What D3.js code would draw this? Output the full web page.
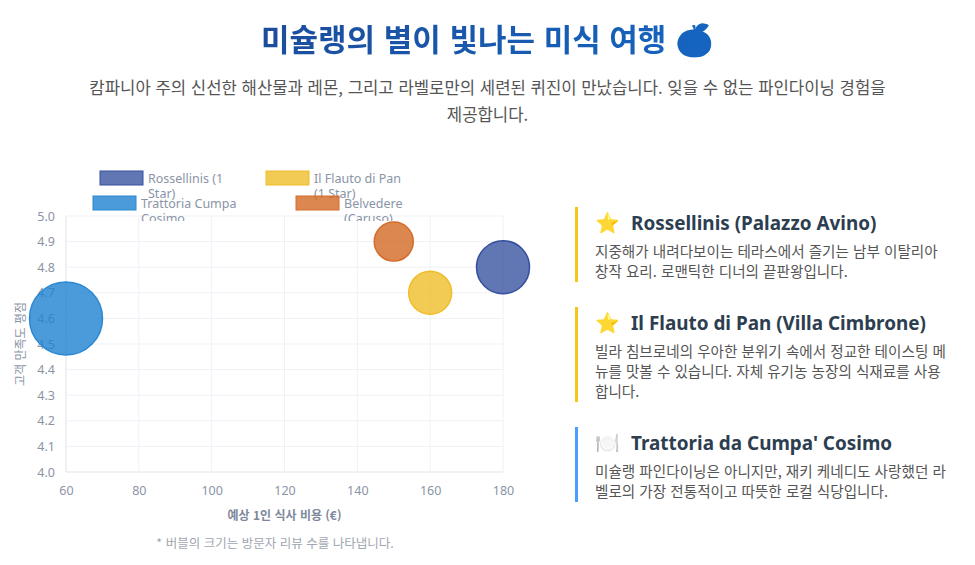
<!DOCTYPE html>
<html lang="ko">
<head>
<meta charset="utf-8">
<script src="https://cdn.jsdelivr.net/npm/d3@7/dist/d3.min.js"></script>
<style>
  html, body { margin:0; padding:0; background:#fff; width:975px; height:565px; overflow:hidden; }
  body { font-family: "Noto Sans CJK KR", "Noto Sans", sans-serif; position:relative; }
  #title { position:absolute; left:0; top:12px; width:975px; text-align:center; font-size:31px; font-weight:700; line-height:52px; }
  #title span { background: linear-gradient(90deg, #1c4d9c, #1565c0); -webkit-background-clip:text; background-clip:text; color:transparent; }
  #subtitle { position:absolute; left:0; top:74px; width:975px; text-align:center; font-size:16.7px; color:#555; line-height:27px; }
  #chart { position:absolute; left:0; top:0; }
  #panel { position:absolute; left:575px; top:207px; width:390px; }
  .item { border-left:3px solid #f5c518; padding:3px 0 1px 17px; }
  .item h3 { margin:0 0 5px 0; font-size:18.9px; font-weight:700; color:#2c3e50; line-height:26px; font-family:"Noto Sans", "Noto Sans CJK KR", sans-serif; white-space:nowrap; }
  .item h3 .ico { font-size:20px; margin-right:11px; }
  .item p { margin:0; font-size:14.6px; color:#555; line-height:20px; white-space:nowrap; }
</style>
</head>
<body>
<div id="title"><span>미슐랭의 별이 빛나는 미식 여행 🍊</span></div>
<div id="subtitle">캄파니아 주의 신선한 해산물과 레몬, 그리고 라벨로만의 세련된 퀴진이 만났습니다. 잊을 수 없는 파인다이닝 경험을<br>제공합니다.</div>
<svg id="chart" width="975" height="565"></svg>
<div id="panel"></div>
<script>
// ---- data ----
const restaurants = ["Rossellinis (1 Star)", "Il Flauto di Pan (1 Star)", "Trattoria Cumpa Cosimo", "Belvedere (Caruso)"];
const legendLines = [["Rossellinis (1", "Star)"], ["Il Flauto di Pan", "(1 Star)"], ["Trattoria Cumpa", "Cosimo"], ["Belvedere", "(Caruso)"]];
const prices = [180, 160, 60, 150];
const ratings = [4.8, 4.7, 4.6, 4.9];
const bubbleSizes = [26.5, 21.5, 36.5, 19.5];
const fillColors = ["rgba(44,74,154,0.75)", "rgba(238,190,40,0.8)", "rgba(30,130,210,0.8)", "rgba(210,105,35,0.8)"];
const borderColors = ["#34509f", "#f0bd2a", "#2b88d2", "#d46d2a"];
const xTicks = [60, 80, 100, 120, 140, 160, 180];
const yTicks = [4.0, 4.1, 4.2, 4.3, 4.4, 4.5, 4.6, 4.7, 4.8, 4.9, 5.0];
const xTitle = "예상 1인 식사 비용 (€)";
const yTitle = "고객 만족도 평점";
const footnote = "* 버블의 크기는 방문자 리뷰 수를 나타냅니다.";

const cardTitles = ["Rossellinis (Palazzo Avino)", "Il Flauto di Pan (Villa Cimbrone)", "Trattoria da Cumpa' Cosimo"];
const cardIcons = ["⭐", "⭐", "🍽️"];
const cardColors = ["#f5c518", "#f5c518", "#4a9eff"];
const cardTexts = [
  ["지중해가 내려다보이는 테라스에서 즐기는 남부 이탈리아", "창작 요리. 로맨틱한 디너의 끝판왕입니다."],
  ["빌라 침브로네의 우아한 분위기 속에서 정교한 테이스팅 메", "뉴를 맛볼 수 있습니다. 자체 유기농 농장의 식재료를 사용", "합니다."],
  ["미슐랭 파인다이닝은 아니지만, 재키 케네디도 사랑했던 라", "벨로의 가장 전통적이고 따뜻한 로컬 식당입니다."]
];

// ---- chart ----
const svg = d3.select("#chart");
const L = 66, R = 503, T = 216, B = 472;
const x = d3.scaleLinear().domain([60, 180]).range([L, R]);
const y = d3.scaleLinear().domain([4.0, 5.0]).range([B, T]);
const r = d3.scaleLinear().domain([0, 1]).range([0, 1]);
const tickColor = "#8a94a6";

// grid
const grid = svg.append("g");
grid.selectAll("line.v").data(xTicks).join("line")
  .attr("x1", d => x(d)).attr("x2", d => x(d)).attr("y1", T).attr("y2", B)
  .attr("stroke", (d, i) => i === 0 ? "#dfe3ea" : "#eef1f6").attr("stroke-width", 1);
grid.selectAll("line.h").data(yTicks).join("line")
  .attr("x1", L).attr("x2", R).attr("y1", d => y(d)).attr("y2", d => y(d))
  .attr("stroke", (d, i) => i === 0 ? "#dfe3ea" : "#eef1f6").attr("stroke-width", 1);

// axes
const yAxis = d3.axisLeft(y).tickValues(yTicks).tickFormat(d3.format(".1f")).tickSize(0).tickPadding(11);
const gy = svg.append("g").attr("transform", `translate(${L},0)`).call(yAxis);
const xAxis = d3.axisBottom(x).tickValues(xTicks).tickSize(0).tickPadding(14);
const gx = svg.append("g").attr("transform", `translate(0,${B})`).call(xAxis);
[gx, gy].forEach(g => {
  g.select(".domain").remove();
  g.selectAll("text").attr("fill", tickColor).style("font-size", "12.5px").style("font-family", '"Noto Sans", sans-serif');
});

svg.append("text").attr("x", (L + R) / 2).attr("y", 520).attr("text-anchor", "middle")
  .attr("fill", "#7d889b").style("font-size", "12px").style("font-weight", "600").text(xTitle);
svg.append("text").attr("transform", `translate(25,${(T + B) / 2}) rotate(-90)`).attr("text-anchor", "middle")
  .attr("fill", tickColor).style("font-size", "12px").text(yTitle);
svg.append("text").attr("x", 275).attr("y", 548).attr("text-anchor", "middle")
  .attr("fill", "#a0a6b0").style("font-size", "12.5px").text(footnote);

// bubbles
svg.append("g").selectAll("circle").data(restaurants).join("circle")
  .attr("cx", (d, i) => x(prices[i])).attr("cy", (d, i) => y(ratings[i]))
  .attr("r", (d, i) => r(bubbleSizes[i]))
  .attr("fill", (d, i) => fillColors[i]).attr("stroke", (d, i) => borderColors[i]).attr("stroke-width", 1.5);

// legend
svg.append("clipPath").attr("id", "lgclip").append("rect").attr("x", 0).attr("y", 150).attr("width", 560).attr("height", 71);
const legendPos = [[100, 171], [266, 171], [93, 196], [296, 196]];
const lg = svg.append("g").attr("clip-path", "url(#lgclip)");
restaurants.forEach((name, i) => {
  const [lx, ly] = legendPos[i];
  lg.append("rect").attr("x", lx).attr("y", ly).attr("width", 43).attr("height", 14)
    .attr("fill", fillColors[i]).attr("stroke", borderColors[i]).attr("stroke-width", 1);
  const t = lg.append("text").attr("fill", tickColor).style("font-size", "12.5px").style("font-family", '"Noto Sans", sans-serif');
  legendLines[i].forEach((ln, j) => {
    t.append("tspan").attr("x", lx + 48).attr("y", ly + 12 + j * 14.5).text(ln);
  });
});

// ---- panel ----
const panel = d3.select("#panel");
cardTitles.forEach((ttl, i) => {
  const it = panel.append("div").attr("class", "item").style("border-left-color", cardColors[i])
    .style("margin-bottom", "25px");
  const h = it.append("h3");
  h.append("span").attr("class", "ico").text(cardIcons[i]);
  h.append("span").text(ttl);
  it.append("p").html(cardTexts[i].join("<br>"));
});
</script>
</body>
</html>
